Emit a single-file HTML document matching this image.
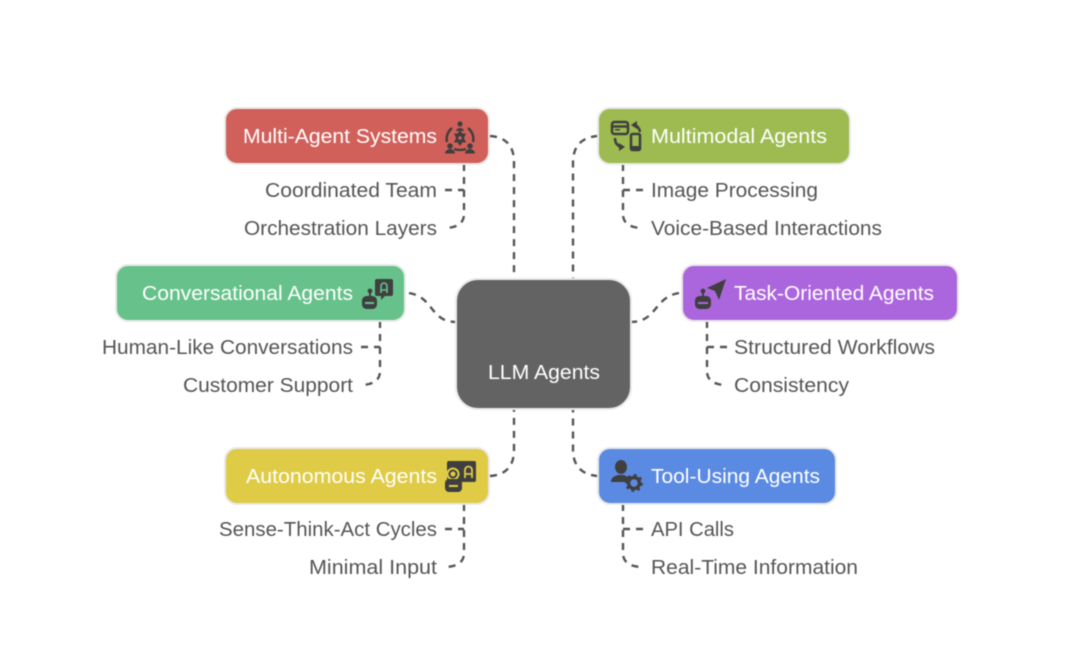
<!DOCTYPE html>
<html><head><meta charset="utf-8"><style>
html,body{margin:0;padding:0;background:#fff;width:1080px;height:660px;overflow:hidden}
svg{display:block;filter:blur(.5px)}
text{font-family:"Liberation Sans",sans-serif;font-size:20px}
.w{fill:#fff}
.d{fill:#555}
.box{stroke:#e9e9e9;stroke-width:2}
.c{fill:none;stroke:#555;stroke-width:2.4;stroke-dasharray:7 6}
.i{fill:#3f3f3f}
.s{fill:none;stroke:#3f3f3f;stroke-width:2.5}
</style></head><body>
<svg width="1080" height="660" viewBox="0 0 1080 660" xmlns="http://www.w3.org/2000/svg">
<rect width="1080" height="660" fill="#fff"/>
<!-- main connectors -->
<path class="c" d="M490 136C506 137 514 146 514 162V279"/>
<path class="c" d="M598 136C582 137 573 146 573 162V279"/>
<path class="c" d="M409 293C434 297 430 322 456 322"/>
<path class="c" d="M679 293C654 297 657 322 631 322"/>
<path class="c" d="M490 476C506 475 514 466 514 450V409"/>
<path class="c" d="M598 476C582 475 573 466 573 450V409"/>
<!-- sub connectors -->
<path class="c" d="M464 164V214C464 224 456 228 444 228"/>
<path class="c" d="M445 190H464"/>
<path class="c" d="M623 164V214C623 224 631 228 643 228"/>
<path class="c" d="M643 190H623"/>
<path class="c" d="M380 321V371C380 381 372 385 360 385"/>
<path class="c" d="M361 347H380"/>
<path class="c" d="M707 321V371C707 381 715 385 727 385"/>
<path class="c" d="M727 347H707"/>
<path class="c" d="M464 504V553C464 563 456 567 444 567"/>
<path class="c" d="M445 529H464"/>
<path class="c" d="M623 504V553C623 563 631 567 643 567"/>
<path class="c" d="M643 529H623"/>
<!-- boxes -->
<rect class="box" x="225" y="108" width="264" height="56" rx="12" fill="#d1605a"/>
<rect class="box" x="598" y="108" width="252" height="56" rx="12" fill="#9dbb50"/>
<rect class="box" x="116" y="265" width="289" height="56" rx="12" fill="#66c28a"/>
<rect class="box" x="682" y="265" width="276" height="56" rx="12" fill="#ac66dd"/>
<rect class="box" x="225" y="448" width="264" height="56" rx="12" fill="#dfcb45"/>
<rect class="box" x="598" y="448" width="238" height="56" rx="12" fill="#5b8ae2"/>
<rect class="box" x="456" y="279" width="175" height="130" rx="22" fill="#636363"/>
<!-- box labels -->
<text class="w" x="243" y="143" textLength="194" lengthAdjust="spacingAndGlyphs">Multi-Agent Systems</text>
<text class="w" x="651" y="143" textLength="176" lengthAdjust="spacingAndGlyphs">Multimodal Agents</text>
<text class="w" x="142" y="300" textLength="211" lengthAdjust="spacingAndGlyphs">Conversational Agents</text>
<text class="w" x="734" y="300" textLength="200" lengthAdjust="spacingAndGlyphs">Task-Oriented Agents</text>
<text class="w" x="246" y="483" textLength="191" lengthAdjust="spacingAndGlyphs">Autonomous Agents</text>
<text class="w" x="651" y="483" textLength="169" lengthAdjust="spacingAndGlyphs">Tool-Using Agents</text>
<text class="w" x="488" y="379" textLength="112" lengthAdjust="spacingAndGlyphs">LLM Agents</text>
<!-- sub labels -->
<text class="d" x="265" y="197" textLength="172" lengthAdjust="spacingAndGlyphs">Coordinated Team</text>
<text class="d" x="244" y="235" textLength="193" lengthAdjust="spacingAndGlyphs">Orchestration Layers</text>
<text class="d" x="651" y="197" textLength="167" lengthAdjust="spacingAndGlyphs">Image Processing</text>
<text class="d" x="651" y="235" textLength="231" lengthAdjust="spacingAndGlyphs">Voice-Based Interactions</text>
<text class="d" x="102" y="354" textLength="251" lengthAdjust="spacingAndGlyphs">Human-Like Conversations</text>
<text class="d" x="183" y="392" textLength="170" lengthAdjust="spacingAndGlyphs">Customer Support</text>
<text class="d" x="734" y="354" textLength="201" lengthAdjust="spacingAndGlyphs">Structured Workflows</text>
<text class="d" x="734" y="392" textLength="115" lengthAdjust="spacingAndGlyphs">Consistency</text>
<text class="d" x="219" y="536" textLength="218" lengthAdjust="spacingAndGlyphs">Sense-Think-Act Cycles</text>
<text class="d" x="309" y="574" textLength="128" lengthAdjust="spacingAndGlyphs">Minimal Input</text>
<text class="d" x="651" y="536" textLength="83" lengthAdjust="spacingAndGlyphs">API Calls</text>
<text class="d" x="651" y="574" textLength="207" lengthAdjust="spacingAndGlyphs">Real-Time Information</text>
<!-- Multi-agent icon -->
<g>
<circle class="i" cx="460" cy="124" r="2.6"/><path class="i" d="M456 131a4 3 0 0 1 8 0z"/>
<path class="s" d="M452 128A14 14 0 0 0 447 142M468 128A14 14 0 0 1 473 142M454 149Q460 151 466 149"/>
<path class="i" d="M460 130l2.500 3.500h3.500l-2 4.500 2 4.500h-3.500l-2.500 3.500-2.500-3.500h-3.500l2-4.500-2-4.500h3.500z"/><circle cx="460" cy="138" r="1.700" fill="#d1605a"/>
<circle class="i" cx="450" cy="146" r="2.800"/><path class="i" d="M445 153.500a5 4.500 0 0 1 10 0z"/>
<circle class="i" cx="470" cy="146" r="2.800"/><path class="i" d="M465 153.500a5 4.500 0 0 1 10 0z"/>
</g>
<!-- Multimodal icon -->
<g>
<rect class="s" x="612" y="122" width="16" height="12" rx="2.500"/><path class="s" d="M612 126.500H628"/><rect class="i" x="615" y="129" width="5" height="1.500"/>
<path class="s" d="M634 125Q639 126 640 132"/><path class="i" d="M631 125l6-4v8z"/>
<rect class="s" x="631" y="134" width="9" height="16" rx="1.500"/><rect class="i" x="631" y="146" width="9" height="4"/>
<path class="s" d="M615 138Q615 145 621 147"/><path class="i" d="M625 147l-6 4v-8z"/>
</g>
<!-- Conversational icon -->
<g>
<path class="i" d="M377 279h14a2 2 0 0 1 2 2v13a2 2 0 0 1-2 2h-6l-4 4v-4h-4a2 2 0 0 1-2-2v-13a2 2 0 0 1 2-2z"/>
<path d="M381 293v-7a3 3 0 0 1 6 0v7M381 290h6" fill="none" stroke="#66c28a" stroke-width="1.600"/>
<circle class="i" cx="370" cy="291" r="2.400"/><rect class="i" x="369" y="292" width="2" height="5"/>
<rect class="i" x="362" y="296" width="15" height="13" rx="4.500"/>
<rect x="365" y="302" width="9" height="2" fill="#66c28a"/>
</g>
<!-- Task icon -->
<g>
<path class="i" d="M726 279L707 288l8 3 4 9z"/>
<circle class="i" cx="703" cy="291" r="2.400"/><rect class="i" x="702" y="292" width="2" height="5"/>
<rect class="i" x="695" y="296" width="16" height="13" rx="4.500"/>
<rect x="698" y="302" width="10" height="2" fill="#ac66dd"/>
</g>
<!-- Autonomous icon -->
<g>
<rect class="i" x="447" y="461" width="29" height="21" rx="2"/>
<path d="M465 478v-8a3.500 3.500 0 0 1 7 0v8M465 474h7" fill="none" stroke="#dfcb45" stroke-width="1.800"/>
<circle cx="453" cy="474" r="5.500" fill="#3f3f3f" stroke="#dfcb45" stroke-width="2"/>
<circle cx="453" cy="474" r="2.500" fill="#dfcb45"/>
<rect class="i" x="445" y="479" width="17" height="13" rx="4"/>
<rect x="449" y="485" width="9" height="2" fill="#dfcb45"/>
</g>
<!-- Tool icon -->
<g>
<ellipse class="i" cx="621" cy="467" rx="6" ry="7"/>
<path class="i" d="M611 482c0-5 4-6 7-7h6c2 1 4 2 5 3l-3 4z"/>
<circle cx="634" cy="483" r="5.500" fill="none" stroke="#3f3f3f" stroke-width="3.500"/>
<path class="s" stroke-dasharray="2.500 3.300" style="stroke-width:3" d="M634 475.500A7.500 7.500 0 1 1 633.900 475.500"/>
</g>
</svg>
</body></html>
